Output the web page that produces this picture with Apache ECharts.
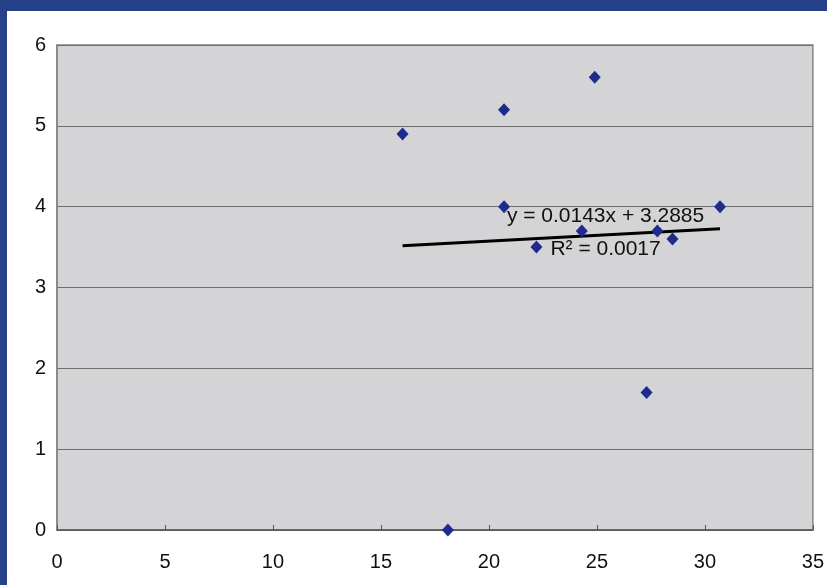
<!DOCTYPE html>
<html>
<head>
<meta charset="utf-8">
<script src="https://cdn.jsdelivr.net/npm/echarts@6/dist/echarts.min.js"></script>
<style>
  html, body { margin: 0; padding: 0; }
  body { width: 827px; height: 585px; background: #24418a; position: relative; overflow: hidden; }
  #chart { position: absolute; left: 7px; top: 11px; width: 820px; height: 574px; background: #ffffff; }
</style>
</head>
<body>
<div id="chart"></div>
<script>
// Observations (x, y)
const xValues = [16.0, 18.1, 20.7, 20.7, 22.2, 24.3, 24.9, 27.3, 27.8, 28.5, 30.7];
const yValues = [4.9, 0.0, 5.2, 4.0, 3.5, 3.7, 5.6, 1.7, 3.7, 3.6, 4.0];

// Linear trendline y = slope * x + intercept
const slope = 0.0143;
const intercept = 3.2885;
const rSquared = '0.0017';

// Axis ranges
const xTicks = [0, 5, 10, 15, 20, 25, 30, 35];
const yTicks = [0, 1, 2, 3, 4, 5, 6];

const points = xValues.map((x, i) => [x, yValues[i]]);
const xMin = Math.min(...xValues);
const xMax = Math.max(...xValues);
const trend = [[xMin, slope * xMin + intercept], [xMax, slope * xMax + intercept]];
const labelX = (xMin + xMax) / 2 + 2.05;
const labelAnchor = [labelX, slope * labelX + intercept + 0.03];

const font = 'Liberation Sans, Arial, sans-serif';
const chart = echarts.init(document.getElementById('chart'));
chart.setOption({
  animation: false,
  grid: {
    left: 50, top: 34, width: 756, height: 485,
    show: true,
    backgroundColor: '#d4d4d6',
    borderColor: '#858585',
    borderWidth: 1.5
  },
  xAxis: {
    type: 'value',
    min: xTicks[0], max: xTicks[xTicks.length - 1], interval: 5,
    axisLine: { show: true, lineStyle: { color: '#555555', width: 1.5 } },
    axisTick: { show: true, inside: true, length: 5, lineStyle: { color: '#555555' } },
    splitLine: { show: false },
    axisLabel: { color: '#111111', fontFamily: font, fontSize: 20, margin: 22 }
  },
  yAxis: {
    type: 'value',
    min: yTicks[0], max: yTicks[yTicks.length - 1], interval: 1,
    axisLine: { show: true, lineStyle: { color: '#858585', width: 1.5 } },
    axisTick: { show: false },
    splitLine: { show: true, lineStyle: { color: '#6e6e6e', width: 1 } },
    axisLabel: { color: '#111111', fontFamily: font, fontSize: 20, margin: 11 }
  },
  series: [
    {
      type: 'line',
      data: trend,
      symbol: 'none',
      silent: true,
      lineStyle: { color: '#000000', width: 3 },
      z: 3,
      markPoint: {
        symbol: 'circle',
        symbolSize: 0,
        silent: true,
        data: [{ coord: labelAnchor }],
        label: {
          show: true,
          position: 'inside',
          formatter: () => 'y = ' + slope.toFixed(4) + 'x + ' + intercept.toFixed(4) + '\nR\u00B2 = ' + rSquared,
          fontFamily: font,
          fontSize: 21,
          color: '#111111',
          lineHeight: 33,
          align: 'center'
        }
      }
    },
    {
      type: 'scatter',
      data: points,
      symbol: 'diamond',
      symbolSize: [12, 13],
      itemStyle: { color: '#1d2b8c', opacity: 1 },
      z: 4
    }
  ]
});
</script>
</body>
</html>
